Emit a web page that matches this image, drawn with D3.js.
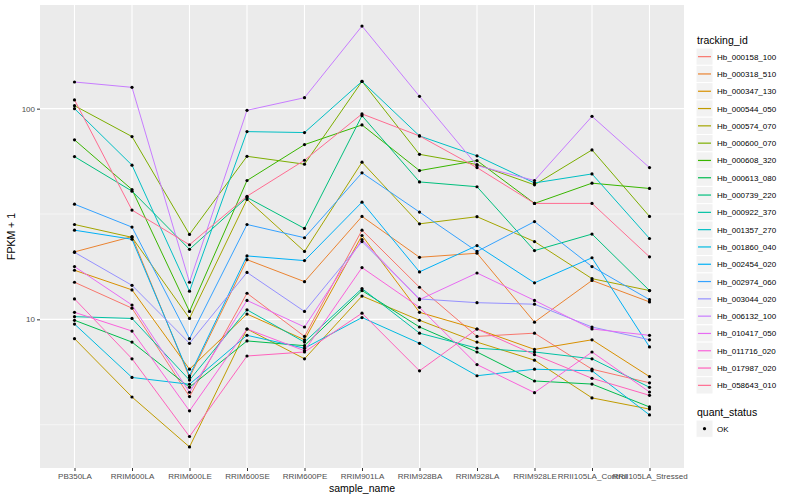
<!DOCTYPE html>
<html>
<head>
  <meta charset="utf-8">
  <title>FPKM by sample</title>
  <script src="https://d3js.org/d3.v7.min.js"></script>
  <style>
    body { margin: 0; background: white; }
    text { font-family: "Liberation Sans", Arial, sans-serif; }
  </style>
</head>
<body>
  <div id="chart"></div>
  <script>
    // categories
    const samples = ["PB350LA", "RRIM600LA", "RRIM600LE", "RRIM600SE", "RRIM600PE", "RRIM901LA",
      "RRIM928BA", "RRIM928LA", "RRIM928LE", "RRII105LA_Control", "RRII105LA_Stressed"];

    const trackingIds = ["Hb_000158_100", "Hb_000318_510", "Hb_000347_130", "Hb_000544_050",
      "Hb_000574_070", "Hb_000600_070", "Hb_000608_320", "Hb_000613_080", "Hb_000739_220",
      "Hb_000922_370", "Hb_001357_270", "Hb_001860_040", "Hb_002454_020", "Hb_002974_060",
      "Hb_003044_020", "Hb_006132_100", "Hb_010417_050", "Hb_011716_020", "Hb_017987_020",
      "Hb_058643_010"];

    // FPKM + 1 per sample, one array per gene
    const hb_000158_100 = [15.0, 11.3, 4.3, 13.3, 8.3, 26.5, 14.2, 8.3, 8.6, 5.8, 5.0];
    const hb_000318_510 = [20.9, 24.7, 5.3, 19.2, 15.1, 30.8, 19.7, 20.6, 9.7, 15.3, 12.1];
    const hb_000347_130 = [17.1, 13.8, 5.8, 10.6, 8.0, 25.0, 10.8, 9.0, 7.2, 8.0, 5.35];
    const hb_000544_050 = [8.1, 4.28, 2.48, 9.0, 6.5, 12.9, 9.9, 7.8, 6.4, 4.24, 3.75];
    const hb_000574_070 = [28.2, 24.5, 10.1, 37.1, 21.0, 55.7, 28.4, 30.7, 23.4, 15.6, 13.7];
    const hb_000600_070 = [103.3, 73.7, 25.3, 59.4, 54.5, 134.7, 60.7, 54.3, 43.5, 63.7, 30.8];
    const hb_000608_320 = [71.1, 41.3, 10.9, 45.6, 67.5, 83.7, 50.8, 56.7, 35.5, 44.3, 41.8];
    const hb_000613_080 = [9.9, 7.8, 4.76, 7.9, 7.5, 13.7, 9.2, 7.0, 5.1, 4.93, 3.84];
    const hb_000739_220 = [59.2, 40.6, 21.5, 37.9, 27.0, 92.6, 44.9, 42.6, 21.2, 25.4, 13.7];
    const hb_000922_370 = [10.3, 10.1, 5.15, 11.1, 7.8, 14.0, 8.6, 7.3, 7.0, 6.5, 4.76];
    const hb_001357_270 = [100, 53.9, 13.6, 77.8, 77.0, 134.7, 74.2, 59.7, 44.4, 49.0, 24.2];
    const hb_001860_040 = [9.5, 5.3, 4.92, 8.4, 7.3, 10.2, 7.7, 5.4, 5.8, 5.7, 3.52];
    const hb_002454_020 = [26.5, 24.0, 5.4, 20.0, 19.0, 36.0, 16.8, 22.4, 14.9, 19.6, 7.4];
    const hb_002974_060 = [35.2, 27.4, 8.1, 28.2, 24.4, 49.6, 32.3, 21.0, 29.1, 17.8, 12.4];
    const hb_003044_020 = [20.8, 14.5, 7.7, 16.7, 10.9, 23.4, 12.5, 12.0, 11.8, 9.2, 8.0];
    const hb_006132_100 = [133.8, 126.2, 15.0, 98.2, 112.7, 246.6, 114.4, 53.7, 45.6, 91.9, 52.5];
    const hb_010417_050 = [17.8, 11.7, 4.51, 12.3, 9.2, 23.9, 12.4, 16.6, 12.3, 9.0, 8.4];
    const hb_011716_020 = [10.8, 8.8, 3.68, 9.0, 7.1, 17.6, 11.4, 6.1, 4.49, 7.0, 4.52];
    const hb_017987_020 = [12.5, 6.5, 2.78, 6.7, 7.0, 10.7, 5.7, 9.0, 6.8, 5.25, 4.36];
    const hb_058643_010 = [110, 33.0, 22.6, 38.4, 56.9, 94.4, 74.2, 52.5, 35.5, 35.5, 19.8];

    const seriesValues = [hb_000158_100, hb_000318_510, hb_000347_130, hb_000544_050,
      hb_000574_070, hb_000600_070, hb_000608_320, hb_000613_080, hb_000739_220,
      hb_000922_370, hb_001357_270, hb_001860_040, hb_002454_020, hb_002974_060,
      hb_003044_020, hb_006132_100, hb_010417_050, hb_011716_020, hb_017987_020,
      hb_058643_010];

    const yTicks = [10, 100];
    const yTickLabels = ["10", "100"];
    const quantStatus = ["OK"];

    // ggplot default hue palette for 20 groups
    const palette = ["#F8766D", "#EA8331", "#D89000", "#C09B00", "#A3A500", "#7CAE00", "#39B600",
      "#00BB4E", "#00BF7D", "#00C1A3", "#00BFC4", "#00BAE0", "#00B0F6", "#35A2FF", "#9590FF",
      "#C77CFF", "#E76BF3", "#FA62DB", "#FF62BC", "#FF6C91"];

    function drawChart() {
      var width = 800, height = 500;
      var panel = { left: 40, top: 5, right: 684, bottom: 468 };

      const svg = d3.select("#chart").append("svg")
        .attr("width", width).attr("height", height);

      const x = d3.scalePoint()
        .domain(samples)
        .range([panel.left, panel.right])
        .padding(0.6);

      // log scale with 5% expansion in log space, like ggplot
      const all = seriesValues.flat();
      const lo = Math.log10(d3.min(all)), hi = Math.log10(d3.max(all));
      const pad = (hi - lo) * 0.05;
      const y = d3.scaleLog()
        .domain([Math.pow(10, lo - pad), Math.pow(10, hi + pad)])
        .range([panel.bottom, panel.top]);

      const color = d3.scaleOrdinal().domain(trackingIds).range(palette);

      // panel background
      svg.append("rect")
        .attr("x", panel.left).attr("y", panel.top)
        .attr("width", panel.right - panel.left)
        .attr("height", panel.bottom - panel.top)
        .attr("fill", "#EBEBEB");

      // minor y grid (half decades)
      const minor = [Math.pow(10, 0.5), Math.pow(10, 1.5), Math.pow(10, 2.5)]
        .filter(v => v > y.domain()[0] && v < y.domain()[1]);
      svg.append("g").selectAll("line").data(minor).enter().append("line")
        .attr("x1", panel.left).attr("x2", panel.right)
        .attr("y1", d => y(d)).attr("y2", d => y(d))
        .attr("stroke", "white").attr("stroke-width", 0.5);

      // major grid
      svg.append("g").selectAll("line").data(yTicks).enter().append("line")
        .attr("x1", panel.left).attr("x2", panel.right)
        .attr("y1", d => y(d)).attr("y2", d => y(d))
        .attr("stroke", "white").attr("stroke-width", 1.1);
      svg.append("g").selectAll("line").data(samples).enter().append("line")
        .attr("x1", d => x(d)).attr("x2", d => x(d))
        .attr("y1", panel.top).attr("y2", panel.bottom)
        .attr("stroke", "white").attr("stroke-width", 1.1);

      // axes
      const xAxis = d3.axisBottom(x).tickSizeOuter(0).tickSizeInner(3).tickPadding(2);
      const gx = svg.append("g")
        .attr("transform", `translate(0,${panel.bottom})`)
        .call(xAxis);
      gx.select(".domain").remove();
      gx.selectAll(".tick line").attr("stroke", "#333333");
      gx.selectAll(".tick text").attr("fill", "#4D4D4D").attr("font-size", 8)
        .attr("font-family", "Liberation Sans, Arial, sans-serif");

      const yAxis = d3.axisLeft(y).tickValues(yTicks)
        .tickFormat((d, i) => yTickLabels[i])
        .tickSizeOuter(0).tickSizeInner(3).tickPadding(2);
      const gy = svg.append("g")
        .attr("transform", `translate(${panel.left},0)`)
        .call(yAxis);
      gy.select(".domain").remove();
      gy.selectAll(".tick line").attr("stroke", "#333333");
      gy.selectAll(".tick text").attr("fill", "#4D4D4D").attr("font-size", 8)
        .attr("font-family", "Liberation Sans, Arial, sans-serif");

      // axis titles
      svg.append("text")
        .attr("x", (panel.left + panel.right) / 2).attr("y", 492)
        .attr("text-anchor", "middle").attr("font-size", 10.5)
        .text("sample_name");
      svg.append("text")
        .attr("transform", `translate(15,${(panel.top + panel.bottom) / 2}) rotate(-90)`)
        .attr("text-anchor", "middle").attr("font-size", 10.5)
        .text("FPKM + 1");

      // lines
      const line = d3.line()
        .x((d, i) => x(samples[i]))
        .y(d => y(d));

      svg.append("g").selectAll("path")
        .data(seriesValues)
        .enter().append("path")
        .attr("d", line)
        .attr("fill", "none")
        .attr("stroke", (d, i) => color(trackingIds[i]))
        .attr("stroke-width", 1);

      // points
      const pts = [];
      seriesValues.forEach((s, k) => s.forEach((v, i) => pts.push({ s: samples[i], v: v })));
      svg.append("g").selectAll("circle")
        .data(pts)
        .enter().append("circle")
        .attr("cx", d => x(d.s))
        .attr("cy", d => y(d.v))
        .attr("r", 1.6)
        .attr("fill", "black");

      // legend: tracking_id
      const lg = svg.append("g").attr("transform", "translate(696,0)");
      lg.append("text").attr("x", 1).attr("y", 44).attr("font-size", 10.5).text("tracking_id");
      const keyH = 17.3;
      const keys = lg.selectAll("g.key").data(trackingIds).enter().append("g")
        .attr("class", "key")
        .attr("transform", (d, i) => `translate(0,${48 + i * keyH})`);
      keys.append("rect")
        .attr("width", 17).attr("height", keyH)
        .attr("fill", "#F2F2F2").attr("stroke", "white").attr("stroke-width", 1);
      keys.append("line")
        .attr("x1", 2).attr("x2", 15)
        .attr("y1", keyH / 2).attr("y2", keyH / 2)
        .attr("stroke", d => color(d)).attr("stroke-width", 1.2);
      keys.append("text")
        .attr("x", 21).attr("y", keyH / 2 + 3)
        .attr("font-size", 8).text(d => d);

      // legend: quant_status
      lg.append("text").attr("x", 1).attr("y", 416).attr("font-size", 10.5).text("quant_status");
      const qk = lg.selectAll("g.qkey").data(quantStatus).enter().append("g")
        .attr("class", "qkey")
        .attr("transform", (d, i) => `translate(0,${420 + i * keyH})`);
      qk.append("rect")
        .attr("width", 17).attr("height", keyH)
        .attr("fill", "#F2F2F2").attr("stroke", "white").attr("stroke-width", 1);
      qk.append("circle")
        .attr("cx", 8.5).attr("cy", keyH / 2).attr("r", 1.6).attr("fill", "black");
      qk.append("text")
        .attr("x", 21).attr("y", keyH / 2 + 3)
        .attr("font-size", 8).text(d => d);
    }

    drawChart();
  </script>
</body>
</html>
